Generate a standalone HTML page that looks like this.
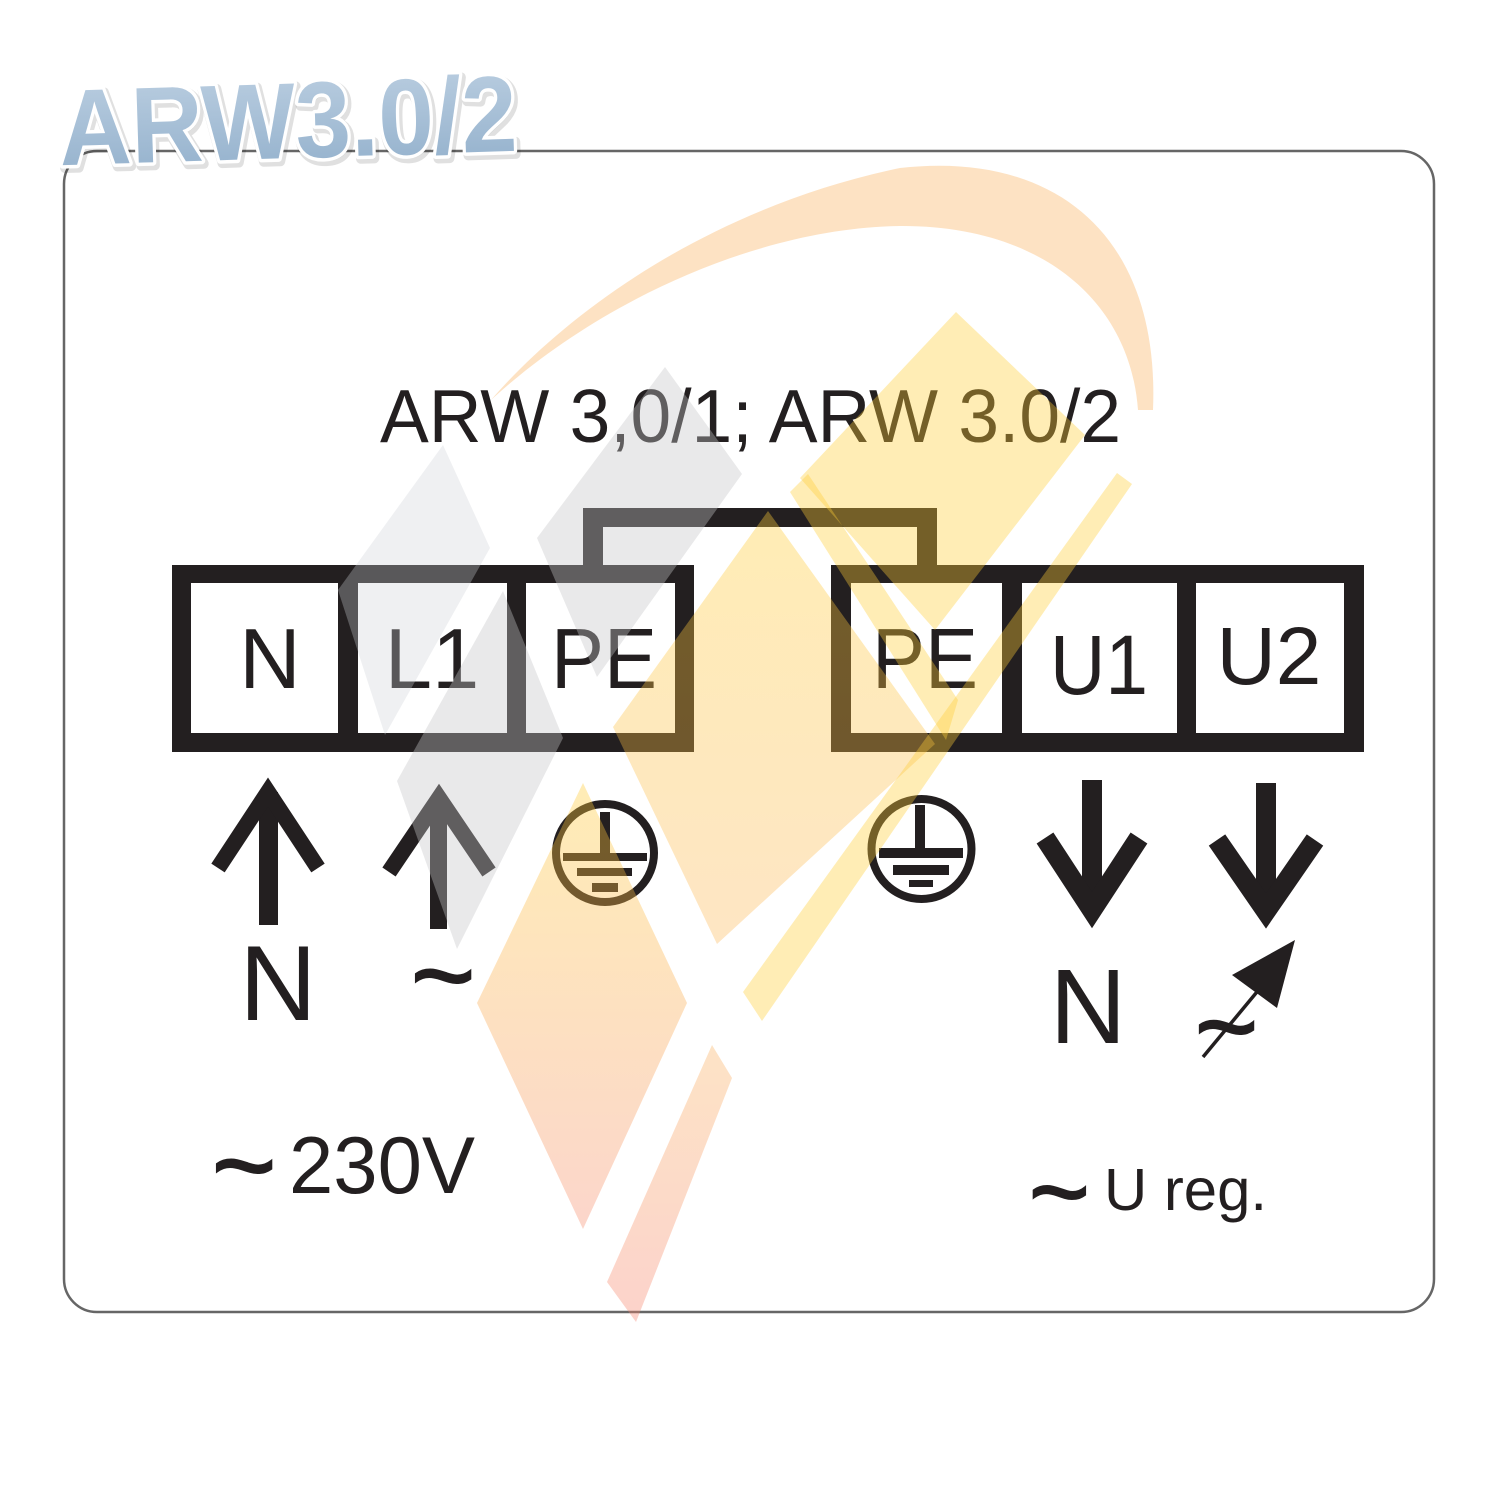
<!DOCTYPE html>
<html>
<head>
<meta charset="utf-8">
<style>
  html, body { margin: 0; padding: 0; background: #ffffff; }
  svg { display: block; }
  .t { font-family: "Liberation Sans", Arial, sans-serif; fill: #231f20; }
</style>
</head>
<body>
<svg width="1500" height="1500" viewBox="0 0 1500 1500" xmlns="http://www.w3.org/2000/svg">
  <defs>
    <linearGradient id="hdr" x1="0" y1="0" x2="0" y2="1">
      <stop offset="0" stop-color="#bdd0e2"/>
      <stop offset="1" stop-color="#91afcb"/>
    </linearGradient>
    <linearGradient id="og" x1="0" y1="0" x2="0" y2="1">
      <stop offset="0" stop-color="rgb(255,205,55)" stop-opacity="0.37"/>
      <stop offset="1" stop-color="rgb(245,140,110)" stop-opacity="0.36"/>
    </linearGradient>
    <linearGradient id="yg" x1="0" y1="0" x2="0" y2="1">
      <stop offset="0" stop-color="rgb(255,205,55)" stop-opacity="0.37"/>
      <stop offset="1" stop-color="rgb(252,180,80)" stop-opacity="0.34"/>
    </linearGradient>
    <linearGradient id="og2" x1="0" y1="0" x2="0" y2="1">
      <stop offset="0" stop-color="rgb(250,175,90)" stop-opacity="0.35"/>
      <stop offset="1" stop-color="rgb(245,130,110)" stop-opacity="0.36"/>
    </linearGradient>
  </defs>

  <rect x="0" y="0" width="1500" height="1500" fill="#ffffff"/>

  <!-- frame -->
  <rect x="64" y="151" width="1370" height="1161" rx="33" ry="33" fill="none" stroke="#666" stroke-width="2.5"/>

  <!-- header -->
  <g transform="rotate(-1.8 289 155)">
    <text x="62" y="161" font-family="Liberation Sans, Arial, sans-serif" font-weight="bold" font-size="108" textLength="458" lengthAdjust="spacingAndGlyphs" fill="#9aa" fill-opacity="0.35" stroke="#000" stroke-opacity="0.12" stroke-width="10" stroke-linejoin="round">ARW3.0/2</text>
    <text x="60" y="158" font-family="Liberation Sans, Arial, sans-serif" font-weight="bold" font-size="108" textLength="458" lengthAdjust="spacingAndGlyphs" fill="url(#hdr)" stroke="#ffffff" stroke-width="7" stroke-linejoin="round" paint-order="stroke">ARW3.0/2</text>
  </g>

  <!-- title -->
  <text class="t" x="380" y="442" font-size="75" textLength="741" lengthAdjust="spacingAndGlyphs">ARW 3,0/1; ARW 3.0/2</text>

  <!-- bridge -->
  <rect x="583" y="508" width="354" height="58" fill="#231f20"/>
  <rect x="603" y="527" width="314" height="40" fill="#ffffff"/>

  <!-- left block -->
  <rect x="172" y="565" width="522" height="187" fill="#231f20"/>
  <rect x="191" y="583" width="147" height="150" fill="#ffffff"/>
  <rect x="358" y="583" width="149" height="150" fill="#ffffff"/>
  <rect x="526" y="583" width="149" height="150" fill="#ffffff"/>

  <!-- right block -->
  <rect x="831" y="565" width="533" height="187" fill="#231f20"/>
  <rect x="851" y="583" width="151" height="150" fill="#ffffff"/>
  <rect x="1022" y="583" width="155" height="150" fill="#ffffff"/>
  <rect x="1196" y="583" width="148" height="150" fill="#ffffff"/>

  <!-- box labels -->
  <text class="t" x="270" y="688" font-size="85" text-anchor="middle">N</text>
  <text class="t" x="432" y="688" font-size="85" text-anchor="middle">L1</text>
  <text class="t" x="604" y="688" font-size="85" text-anchor="middle" textLength="106" lengthAdjust="spacingAndGlyphs">PE</text>
  <text class="t" x="925" y="688" font-size="85" text-anchor="middle" textLength="106" lengthAdjust="spacingAndGlyphs">PE</text>
  <text class="t" x="1099" y="694" font-size="84" text-anchor="middle" textLength="98" lengthAdjust="spacingAndGlyphs">U1</text>
  <text class="t" x="1269" y="684" font-size="82" text-anchor="middle">U2</text>

  <!-- arrows -->
  <g fill="#231f20">
    <rect x="259" y="792" width="19" height="133"/>
    <rect x="430" y="798" width="17" height="131"/>
    <rect x="1082" y="780" width="20" height="125"/>
    <rect x="1256" y="783" width="20" height="125"/>
  </g>
  <g fill="none" stroke="#231f20" stroke-miterlimit="10">
    <polyline points="218,868 268,792 318,868" stroke-width="16"/>
    <polyline points="389,872 439,798 489,872" stroke-width="16"/>
    <polyline points="1045,838 1092,910 1139,838" stroke-width="20"/>
    <polyline points="1217,840 1266,911 1315,840" stroke-width="20"/>
  </g>

  <!-- earth symbols -->
  <g fill="#231f20">
    <circle cx="605" cy="853" r="49" fill="none" stroke="#231f20" stroke-width="8"/>
    <rect x="600" y="812" width="10" height="45"/>
    <rect x="563" y="853" width="84" height="8"/>
    <rect x="577" y="868" width="55" height="8"/>
    <rect x="592" y="883" width="26" height="9"/>

    <circle cx="921.5" cy="849" r="50" fill="none" stroke="#231f20" stroke-width="8"/>
    <rect x="915" y="805" width="10" height="46"/>
    <rect x="879" y="848" width="84" height="10"/>
    <rect x="893" y="865" width="56" height="10"/>
    <rect x="909" y="880" width="24" height="7"/>
  </g>

  <!-- arrow labels -->
  <text class="t" x="278" y="1020" font-size="107" text-anchor="middle">N</text>
  <text class="t" x="411" y="1013" font-size="110" stroke="#231f20" stroke-width="2">~</text>
  <text class="t" x="1088" y="1043" font-size="106" text-anchor="middle">N</text>

  <!-- variable symbol -->
  <text class="t" x="1195" y="1063" font-size="108" stroke="#231f20" stroke-width="2">~</text>
  <line x1="1203" y1="1057" x2="1266" y2="981" stroke="#231f20" stroke-width="3.5"/>
  <polygon points="1295,940 1232,975 1277,1008" fill="#231f20"/>

  <!-- bottom labels -->
  <text class="t" x="212" y="1203" font-size="110" stroke="#231f20" stroke-width="2">~</text>
  <text class="t" x="289" y="1193" font-size="81" textLength="186" lengthAdjust="spacingAndGlyphs">230V</text>
  <text class="t" x="1029" y="1227" font-size="104" stroke="#231f20" stroke-width="2">~</text>
  <text class="t" x="1104" y="1210" font-size="59" textLength="163" lengthAdjust="spacingAndGlyphs">U reg.</text>

  <!-- watermark overlay -->
  <g>
    <path d="M491,400 C560,320 700,210 900,168 C1060,150 1160,240 1153,410 L1138,410 C1130,300 1040,225 900,226 C760,228 600,300 491,400 Z" fill="rgb(250,175,90)" fill-opacity="0.36"/>
    <polygon points="443,445 490,548 385,735 338,590" fill="rgb(205,208,214)" fill-opacity="0.32"/>
    <polygon points="665,367 742,474 597,677 537,538" fill="rgb(197,197,200)" fill-opacity="0.38"/>
    <polygon points="503,591 563,738 457,949 397,781" fill="rgb(197,197,200)" fill-opacity="0.38"/>
    <polygon points="956,312 1085,435 935,630 800,478" fill="rgb(255,205,55)" fill-opacity="0.37"/>
    <polygon points="790,492 808,474 958,700 946,740" fill="rgb(255,205,55)" fill-opacity="0.37"/>
    <polygon points="768,511 935,744 717,944 613,727" fill="url(#yg)"/>
    <polygon points="1117,473 1132,484 762,1021 743,992" fill="rgb(255,205,55)" fill-opacity="0.37"/>
    <polygon points="583,783 687,1003 583,1229 477,1003" fill="url(#og)"/>
    <polygon points="712,1045 732,1078 636,1322 607,1282" fill="url(#og2)"/>
  </g>
</svg>
</body>
</html>
